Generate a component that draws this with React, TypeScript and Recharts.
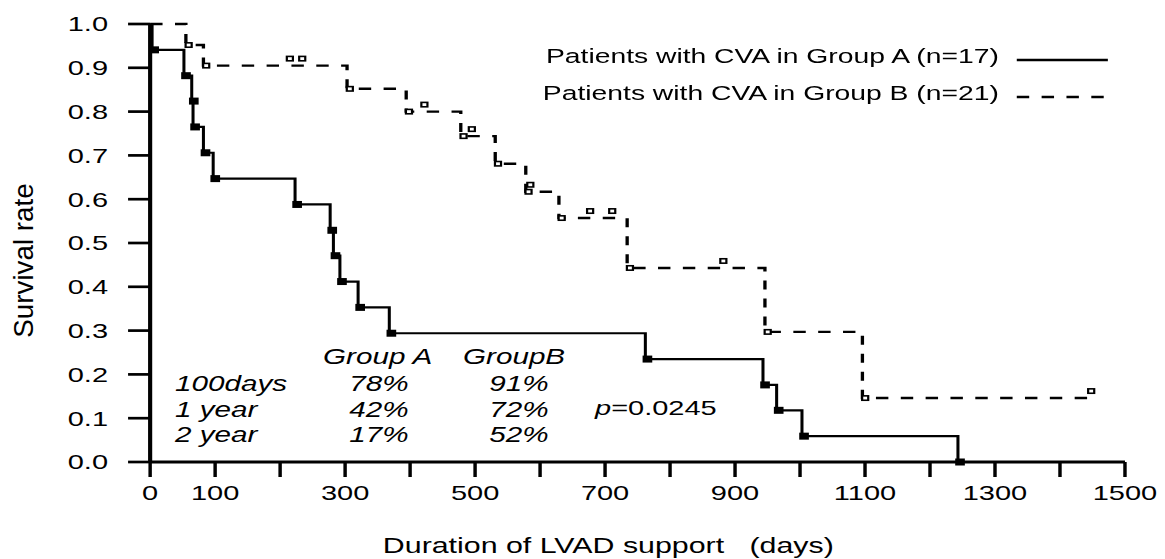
import React from 'react';
import { ComposedChart, Line, Scatter, XAxis, YAxis, Legend, Customized } from 'recharts';

// ---- data ----
const groupADays = [0, 3, 52, 64, 66, 82, 97, 223, 277, 282, 292, 320, 368, 762, 943, 964, 1003, 1243];
const groupASurvival = [1, 0.941, 0.882, 0.824, 0.765, 0.706, 0.647, 0.588, 0.529, 0.471, 0.412, 0.353, 0.294, 0.235, 0.176, 0.118, 0.059, 0];

const groupBDays = [0, 55, 82, 303, 394, 478, 531, 578, 629, 734, 946, 1096, 1442];
const groupBSurvival = [1, 0.952, 0.905, 0.852, 0.8, 0.744, 0.681, 0.617, 0.557, 0.443, 0.297, 0.146, 0.146];

const censoredBDays = [215, 234, 422, 495, 585, 677, 711, 882, 1448];
const censoredBSurvival = [0.905, 0.905, 0.8, 0.744, 0.617, 0.557, 0.557, 0.443, 0.146];

const seriesNames = ['Patients with CVA in Group A (n=17)', 'Patients with CVA in Group B (n=21)'];

const xTicks = [0, 100, 200, 300, 400, 500, 600, 700, 800, 900, 1000, 1100, 1200, 1300, 1400, 1500];
const xLabeledTicks = [0, 100, 300, 500, 700, 900, 1100, 1300, 1500];
const yTicks = [0, 0.1, 0.2, 0.3, 0.4, 0.5, 0.6, 0.7, 0.8, 0.9, 1.0];

const tableHeaders = ['Group A', 'GroupB'];
const tableRows = ['100days', '1 year', '2 year'];
const groupARates = ['78%', '42%', '17%'];
const groupBRates = ['91%', '72%', '52%'];
const pValue = '0.0245';

const xTitle = 'Duration of LVAD support   (days)';
const yTitle = 'Survival rate';

// ---- derived tables ----
const groupA = groupADays.map((t, i) => ({ t, s: groupASurvival[i] }));
const groupB = groupBDays.map((t, i) => ({ t, s: groupBSurvival[i] }));
const groupAEvents = groupA.slice(1);
const groupBEvents = groupB.slice(1, groupB.length - 1);
const groupBCensored = censoredBDays.map((t, i) => ({ t, s: censoredBSurvival[i] }));

// ---- style ----
const S = 1.38; // horizontal stretch of the original figure
const W = 836;
const H = 551;
const FONT = '"Liberation Sans", Arial, Helvetica, sans-serif';
const DASH = '9 9';
const dashFor: Record<string, string | undefined> = {
  [seriesNames[0]]: undefined,
  [seriesNames[1]]: DASH,
};

const FilledSquare = (props: any) => {
  const { cx, cy } = props;
  if (cx == null || cy == null) return <g />;
  return <rect x={cx - 2} y={cy - 3.5} width={7} height={7} fill="#000" />;
};

const OpenSquare = (props: any) => {
  const { cx, cy } = props;
  if (cx == null || cy == null) return <g />;
  return <rect x={cx - 0.2} y={cy - 2.2} width={4.4} height={4.4} fill="#fff" stroke="#000" strokeWidth={1.6} />;
};

const CensorSquare = (props: any) => {
  const { cx, cy } = props;
  if (cx == null || cy == null) return <g />;
  return <rect x={cx - 2.2} y={cy - 9.2} width={4.4} height={4.4} fill="#fff" stroke="#000" strokeWidth={1.6} />;
};

const renderLegend = (props: any) => {
  const items = (props.payload || []).filter((p: any) => p.type !== 'none');
  return (
    <svg width={W} height={110} style={{ display: 'block', overflow: 'visible' }}>
      {items.map((item: any, i: number) => {
        const y = 52 + i * 37;
        return (
          <g key={i}>
            <text x={718} y={y + 3} textAnchor="end" fontSize={20.5} fontFamily={FONT} fill="#000">
              {item.value}
            </text>
            <line x1={731} x2={797} y1={y} y2={y} stroke="#000" strokeWidth={2.4} strokeDasharray={dashFor[item.value]} />
          </g>
        );
      })}
    </svg>
  );
};

const TableText = () => {
  const fs = 21.5;
  const rowY = [382.7, 408.7, 433.7];
  return (
    <g fontFamily={FONT} fontSize={fs} fontStyle="italic" fill="#000">
      <text x={228.3} y={355.7}>{tableHeaders[0]}</text>
      <text x={329.7} y={355.7}>{tableHeaders[1]}</text>
      {tableRows.map((r, i) => (
        <g key={r}>
          <text x={121} y={rowY[i]}>{r}</text>
          <text x={268.8} y={rowY[i]} textAnchor="middle">{groupARates[i]}</text>
          <text x={370.3} y={rowY[i]} textAnchor="middle">{groupBRates[i]}</text>
        </g>
      ))}
      <text x={425.4} y={407.5} fontSize={21}>
        <tspan fontStyle="italic">p</tspan>
        <tspan fontStyle="normal">={pValue}</tspan>
      </text>
    </g>
  );
};

const xLabel = () => (
  <text x={435} y={545} textAnchor="middle" fontSize={22} fontFamily={FONT} fill="#000" style={{ whiteSpace: 'pre' }}>
    {xTitle}
  </text>
);

const yLabel = () => (
  <text transform="translate(18,252.5) rotate(-90) scale(1.39,1)" textAnchor="middle" fontSize={20} fontFamily={FONT} fill="#000">
    {yTitle}
  </text>
);

export default function App() {
  return (
    <div
      style={{
        position: 'fixed',
        left: 8,
        top: 8,
        width: W,
        height: H,
        transform: `scaleX(${S})`,
        transformOrigin: '0 0',
        background: '#fff',
      }}
    >
      <ComposedChart
        width={W}
        height={H}
        margin={{ top: 16, right: 26.6, bottom: 8, left: 0 }}
        style={{ overflow: 'visible' }}
      >
        <XAxis
          type="number"
          dataKey="t"
          domain={[0, 1500]}
          ticks={xTicks}
          interval={0}
          allowDataOverflow
          height={89}
          tickSize={15}
          tickMargin={8}
          tickFormatter={(v: number) => (xLabeledTicks.includes(v) ? String(v) : '')}
          tick={{ fontSize: 21, fill: '#000', fontFamily: FONT }}
          tickLine={{ stroke: '#000', strokeWidth: 2.5 }}
          axisLine={{ stroke: '#000', strokeWidth: 3.2 }}
          label={xLabel}
        />
        <YAxis
          type="number"
          dataKey="s"
          domain={[0, 1]}
          ticks={yTicks}
          interval={0}
          width={103}
          tickSize={16}
          tickMargin={14.5}
          tickFormatter={(v: number) => v.toFixed(1)}
          tick={{ fontSize: 21, fill: '#000', fontFamily: FONT }}
          tickLine={{ stroke: '#000', strokeWidth: 2.7 }}
          axisLine={{ stroke: '#000', strokeWidth: 3 }}
          label={yLabel}
        />
        <Legend
          layout="horizontal"
          verticalAlign="middle"
          align="center"
          content={renderLegend}
          wrapperStyle={{ left: 0, top: 0, width: W, height: 110, pointerEvents: 'none' }}
        />
        <Line
          data={groupB}
          dataKey="s"
          name={seriesNames[1]}
          type="stepAfter"
          stroke="#000"
          strokeWidth={2.4}
          strokeDasharray={DASH}
          dot={false}
          activeDot={false}
          isAnimationActive={false}
        />
        <Line
          data={groupA}
          dataKey="s"
          name={seriesNames[0]}
          type="stepAfter"
          stroke="#000"
          strokeWidth={2.2}
          dot={false}
          activeDot={false}
          isAnimationActive={false}
        />
        <Scatter data={groupBEvents} dataKey="s" shape={OpenSquare} legendType="none" isAnimationActive={false} />
        <Scatter data={groupBCensored} dataKey="s" shape={CensorSquare} legendType="none" isAnimationActive={false} />
        <Scatter data={groupAEvents} dataKey="s" shape={FilledSquare} legendType="none" isAnimationActive={false} />
        <Customized component={TableText} />
      </ComposedChart>
    </div>
  );
}
